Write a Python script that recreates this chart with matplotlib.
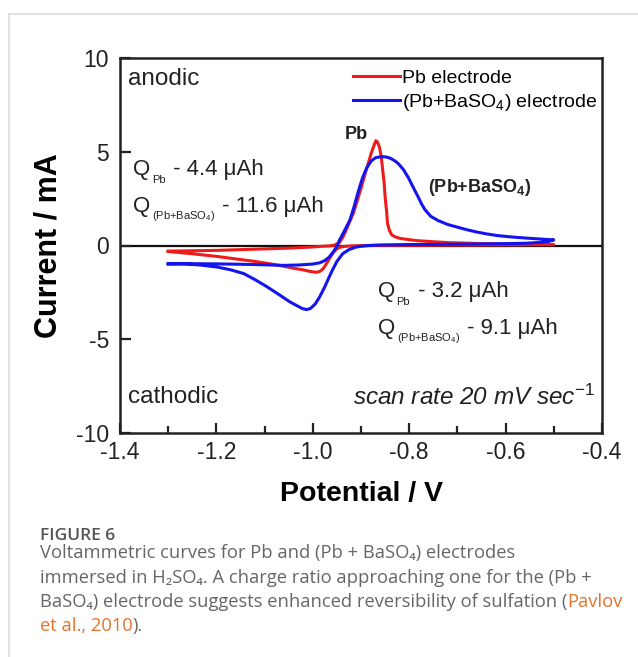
import matplotlib.pyplot as plt

plt.rcParams['font.family'] = ['Liberation Sans', 'DejaVu Sans']
plt.rcParams['mathtext.fontset'] = 'custom'
plt.rcParams['mathtext.rm'] = 'Liberation Sans'
plt.rcParams['mathtext.it'] = 'Liberation Sans:italic'
plt.rcParams['mathtext.bf'] = 'Liberation Sans:bold'

# Pb electrode: anodic sweep (-1.3 -> -0.5) and cathodic sweep (-0.5 -> -1.3)
pb_anodic_v = [-1.30, -1.25, -1.20, -1.15, -1.10, -1.05, -1.00, -0.98, -0.965, -0.955, -0.945, -0.937,
               -0.927, -0.916, -0.907, -0.899, -0.892, -0.885, -0.879, -0.874, -0.871, -0.869, -0.866,
               -0.862, -0.858, -0.855, -0.852, -0.850, -0.847, -0.845, -0.841, -0.836, -0.828, -0.819,
               -0.80, -0.784, -0.75, -0.715, -0.66, -0.612, -0.55, -0.50]
pb_anodic_i = [-0.30, -0.28, -0.26, -0.22, -0.18, -0.14, -0.08, -0.04, -0.02, 0.02, 0.15, 0.47,
               1.05, 1.72, 2.45, 3.14, 3.78, 4.38, 4.90, 5.27, 5.48, 5.59, 5.52,
               5.27, 4.75, 4.03, 3.35, 2.60, 1.85, 1.18, 0.80, 0.56, 0.45, 0.38,
               0.31, 0.26, 0.20, 0.15, 0.11, 0.08, 0.06, 0.05]
pb_cathodic_v = [-0.50, -0.60, -0.70, -0.80, -0.88, -0.92, -0.935, -0.945, -0.952, -0.958, -0.965,
                 -0.972, -0.978, -0.984, -0.990, -0.995, -1.002, -1.01, -1.02, -1.034, -1.05, -1.07,
                 -1.095, -1.12, -1.15, -1.20, -1.25, -1.30]
pb_cathodic_i = [0.05, 0.03, 0.02, 0.01, 0.0, -0.02, -0.05, -0.10, -0.22, -0.40, -0.68,
                 -0.98, -1.22, -1.36, -1.42, -1.42, -1.40, -1.36, -1.30, -1.24, -1.16, -1.06,
                 -0.95, -0.85, -0.75, -0.58, -0.44, -0.32]

# (Pb+BaSO4) electrode
ba_anodic_v = [-1.30, -1.25, -1.20, -1.15, -1.10, -1.06, -1.03, -1.00, -0.985, -0.975, -0.966, -0.958,
               -0.950, -0.945, -0.935, -0.923, -0.914, -0.906, -0.897, -0.888, -0.879, -0.870, -0.860,
               -0.850, -0.842, -0.835, -0.828, -0.822, -0.812, -0.802, -0.792, -0.781, -0.774, -0.767,
               -0.755, -0.740, -0.72, -0.699, -0.68, -0.660, -0.64, -0.617, -0.59, -0.560, -0.53, -0.50]
ba_anodic_i = [-0.98, -0.97, -0.98, -1.00, -1.03, -1.06, -1.04, -0.99, -0.92, -0.80, -0.62, -0.35,
               -0.05, 0.27, 0.75, 1.36, 2.10, 2.85, 3.60, 4.15, 4.50, 4.68, 4.73,
               4.73, 4.68, 4.60, 4.48, 4.35, 4.05, 3.63, 3.12, 2.57, 2.20, 1.90,
               1.55, 1.33, 1.12, 0.97, 0.84, 0.72, 0.62, 0.53, 0.46, 0.40, 0.35, 0.30]
ba_cathodic_v = [-0.50, -0.51, -0.53, -0.56, -0.60, -0.70, -0.80, -0.86, -0.884, -0.90, -0.911, -0.925,
                 -0.938, -0.950, -0.960, -0.966, -0.976, -0.986, -0.995, -1.005, -1.013, -1.022, -1.035,
                 -1.048, -1.07, -1.095, -1.12, -1.143, -1.17, -1.198, -1.23, -1.266, -1.30]
ba_cathodic_i = [0.30, 0.22, 0.16, 0.12, 0.10, 0.07, 0.05, 0.03, 0.0, -0.04, -0.09, -0.22,
                 -0.44, -0.85, -1.35, -1.68, -2.25, -2.75, -3.12, -3.36, -3.42, -3.36, -3.18,
                 -3.00, -2.62, -2.20, -1.82, -1.50, -1.30, -1.15, -1.05, -0.98, -0.98]

x_ticks = [-1.4, -1.2, -1.0, -0.8, -0.6, -0.4]
x_labels = ['-1.4', '-1.2', '-1.0', '-0.8', '-0.6', '-0.4']
x_minor = [-1.3, -1.1, -0.9, -0.7, -0.5]
y_ticks = [-10, -5, 0, 5, 10]
y_labels = ['-10', '-5', '0', '5', '10']

pb_color = '#ee1b1b'
ba_color = '#1414ee'
ink = '#222222'

fig = plt.figure(figsize=(6.38, 6.57), dpi=100)
ax = fig.add_axes([120 / 638, 1 - 433 / 657, 482 / 638, 375 / 657])

ax.axhline(0, color='#111111', lw=1.6, zorder=1)
ax.plot(pb_anodic_v + pb_cathodic_v, pb_anodic_i + pb_cathodic_i, color=pb_color, lw=2.2,
        solid_joinstyle='round', label='Pb electrode', zorder=3)
ax.plot(ba_anodic_v + ba_cathodic_v, ba_anodic_i + ba_cathodic_i, color=ba_color, lw=2.2,
        solid_joinstyle='round', label='(Pb+BaSO$_4$) electrode', zorder=4)

ax.set_xlim(-1.4, -0.4)
ax.set_ylim(-10, 10)
ax.set_xticks(x_ticks)
ax.set_xticklabels(x_labels)
ax.set_xticks(x_minor, minor=True)
ax.set_yticks(y_ticks)
ax.set_yticklabels(y_labels)
ax.tick_params(axis='x', which='major', direction='in', length=7, width=1.6, labelsize=16.5, pad=6,
               colors=ink)
ax.tick_params(axis='x', which='minor', direction='in', length=5, width=1.6, colors=ink)
ax.tick_params(axis='y', direction='in', length=8, width=1.6, labelsize=16.5, pad=8, colors=ink)
for s in ax.spines.values():
    s.set_linewidth(1.8)
    s.set_color(ink)

ax.set_xlabel('Potential / V', fontsize=20.5, fontweight='bold', labelpad=12)
ax.set_ylabel('Current / mA', fontsize=22, fontweight='bold', labelpad=9)

ax.legend(loc='upper left', bbox_to_anchor=(0.46, 1.0), frameon=False, fontsize=14,
          handlelength=2.4, handletextpad=0.1, borderaxespad=0.2, labelspacing=0.25)


def chain(x, y, parts):
    # parts: (text, fontsize, dy in points)
    t = ax.text(x, y, parts[0][0], fontsize=parts[0][1], va='bottom', color=ink)
    for s, fs, dy in parts[1:]:
        t = ax.annotate(s, xy=(1, 0), xycoords=t, xytext=(1, dy), textcoords='offset points',
                        fontsize=fs, va='bottom', color=ink)
    return t


ax.text(-1.383, 8.9, 'anodic', fontsize=17.5, va='center', color=ink)
ax.text(-1.383, -8.1, 'cathodic', fontsize=17.5, va='center', color=ink)
ax.text(-0.415, -8.1, 'scan rate 20 mV sec$^{-1}$', fontsize=17.5, style='italic', ha='right',
        va='center', color=ink)

chain(-1.373, 3.5, [('Q', 16, 0), ('Pb', 8, -4), (' - 4.4 μAh', 16, 4)])
chain(-1.373, 1.5, [('Q', 16, 0), ('(Pb+BaSO$_4$)', 8, -4), (' - 11.6 μAh', 16, 4)])
chain(-0.865, -3.0, [('Q', 16, 0), ('Pb', 8, -4), (' - 3.2 μAh', 16, 4)])
chain(-0.865, -5.0, [('Q', 16, 0), ('(Pb+BaSO$_4$)', 8, -4), (' - 9.1 μAh', 16, 4)])

ax.text(-0.910, 5.9, 'Pb', fontsize=13, fontweight='bold', ha='center', va='center', color=ink)
ax.text(-0.761, 3.07, '(Pb+BaSO$_\\mathbf{4}$)', fontsize=13, fontweight='bold', ha='left', va='center',
        color=ink)

# card border lines
fig.add_artist(plt.Line2D([9 / 638, 9 / 638], [0, 1 - 14 / 657], color='#dddddd', lw=1.2))
fig.add_artist(plt.Line2D([9 / 638, 1], [1 - 14 / 657, 1 - 14 / 657], color='#dddddd', lw=1.2))

# caption
cap_font = ['Open Sans', 'DejaVu Sans']
gray = '#666666'
orange = '#e8712a'
fig.text(40 / 638, 1 - 536 / 657, 'FIGURE 6', fontsize=12.5, color='#555555', family=cap_font,
         fontweight='semibold', va='center')
cap_lines = ['Voltammetric curves for Pb and (Pb + BaSO₄) electrodes',
             'immersed in H₂SO₄. A charge ratio approaching one for the (Pb +',
             'BaSO₄) electrode suggests enhanced reversibility of sulfation (']
ys = [558, 583, 607, 631]
for line, yy in zip(cap_lines, ys):
    t = fig.text(40 / 638, 1 - yy / 657, line, fontsize=13.2, color=gray, family=cap_font,
                 va='baseline')
ax.annotate('Pavlov', xy=(1, 0), xycoords=t, xytext=(0, 0), textcoords='offset points',
            fontsize=13.2, color=orange, family=cap_font, va='bottom', annotation_clip=False)
t4 = fig.text(40 / 638, 1 - ys[3] / 657, 'et al., 2010', fontsize=13.2, color=orange, family=cap_font,
              va='baseline')
ax.annotate(').', xy=(1, 0), xycoords=t4, xytext=(0, 0), textcoords='offset points',
            fontsize=13.2, color=gray, family=cap_font, va='bottom', annotation_clip=False)

fig.savefig('out.png', dpi=100)
